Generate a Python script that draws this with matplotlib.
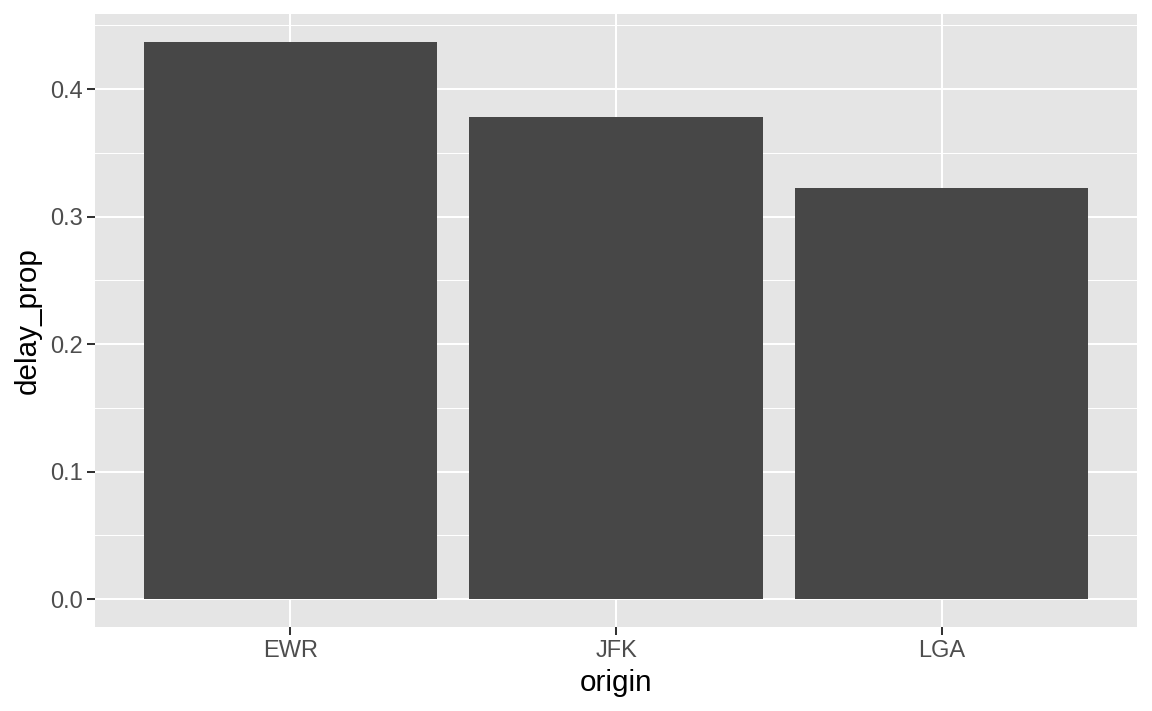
import matplotlib
matplotlib.use('Agg')
import matplotlib.pyplot as plt
import numpy as np

# data
origin = ['EWR', 'JFK', 'LGA']
delay_prop = [0.4370, 0.3780, 0.3225]
y_ticks = [0.0, 0.1, 0.2, 0.3, 0.4]
y_tick_labels = ['0.0', '0.1', '0.2', '0.3', '0.4']

plt.rcParams['font.family'] = ['Liberation Sans', 'DejaVu Sans']

fig = plt.figure(figsize=(11.52, 7.11), dpi=100)
# panel in pixels: left 95, right 1137, top 14, bottom 627
ax = fig.add_axes([95 / 1152, (711 - 627) / 711, (1137 - 95) / 1152, (627 - 14) / 711])
ax.set_facecolor('#E5E5E5')

x = np.arange(len(origin))
ymax = max(delay_prop)
ax.set_xlim(-0.6, len(origin) - 1 + 0.6)
ax.set_ylim(-0.05 * ymax, ymax * 1.05)

# grid
for v in np.arange(0.05, 0.5, 0.1):
    if v < ymax * 1.05:
        ax.axhline(v, color='white', lw=0.75, zorder=0.5)
for v in y_ticks:
    ax.axhline(v, color='white', lw=1.45, zorder=0.6)
for v in x:
    ax.axvline(v, color='white', lw=1.45, zorder=0.6)

ax.bar(x, delay_prop, width=0.9, color='#474747', zorder=2)

ax.set_xticks(x)
ax.set_xticklabels(origin)
ax.set_yticks(y_ticks)
ax.set_yticklabels(y_tick_labels)
ax.tick_params(axis='both', length=5.5, width=1.45, color='#333333',
               labelsize=17, labelcolor='#4D4D4D', pad=3)
ax.tick_params(axis='x', pad=4)

for s in ax.spines.values():
    s.set_visible(False)

ax.set_xlabel('origin', fontsize=21.3, color='black', labelpad=5)
ax.set_ylabel('delay_prop', fontsize=21.3, color='black', labelpad=6)

fig.savefig('out.png', dpi=100)
